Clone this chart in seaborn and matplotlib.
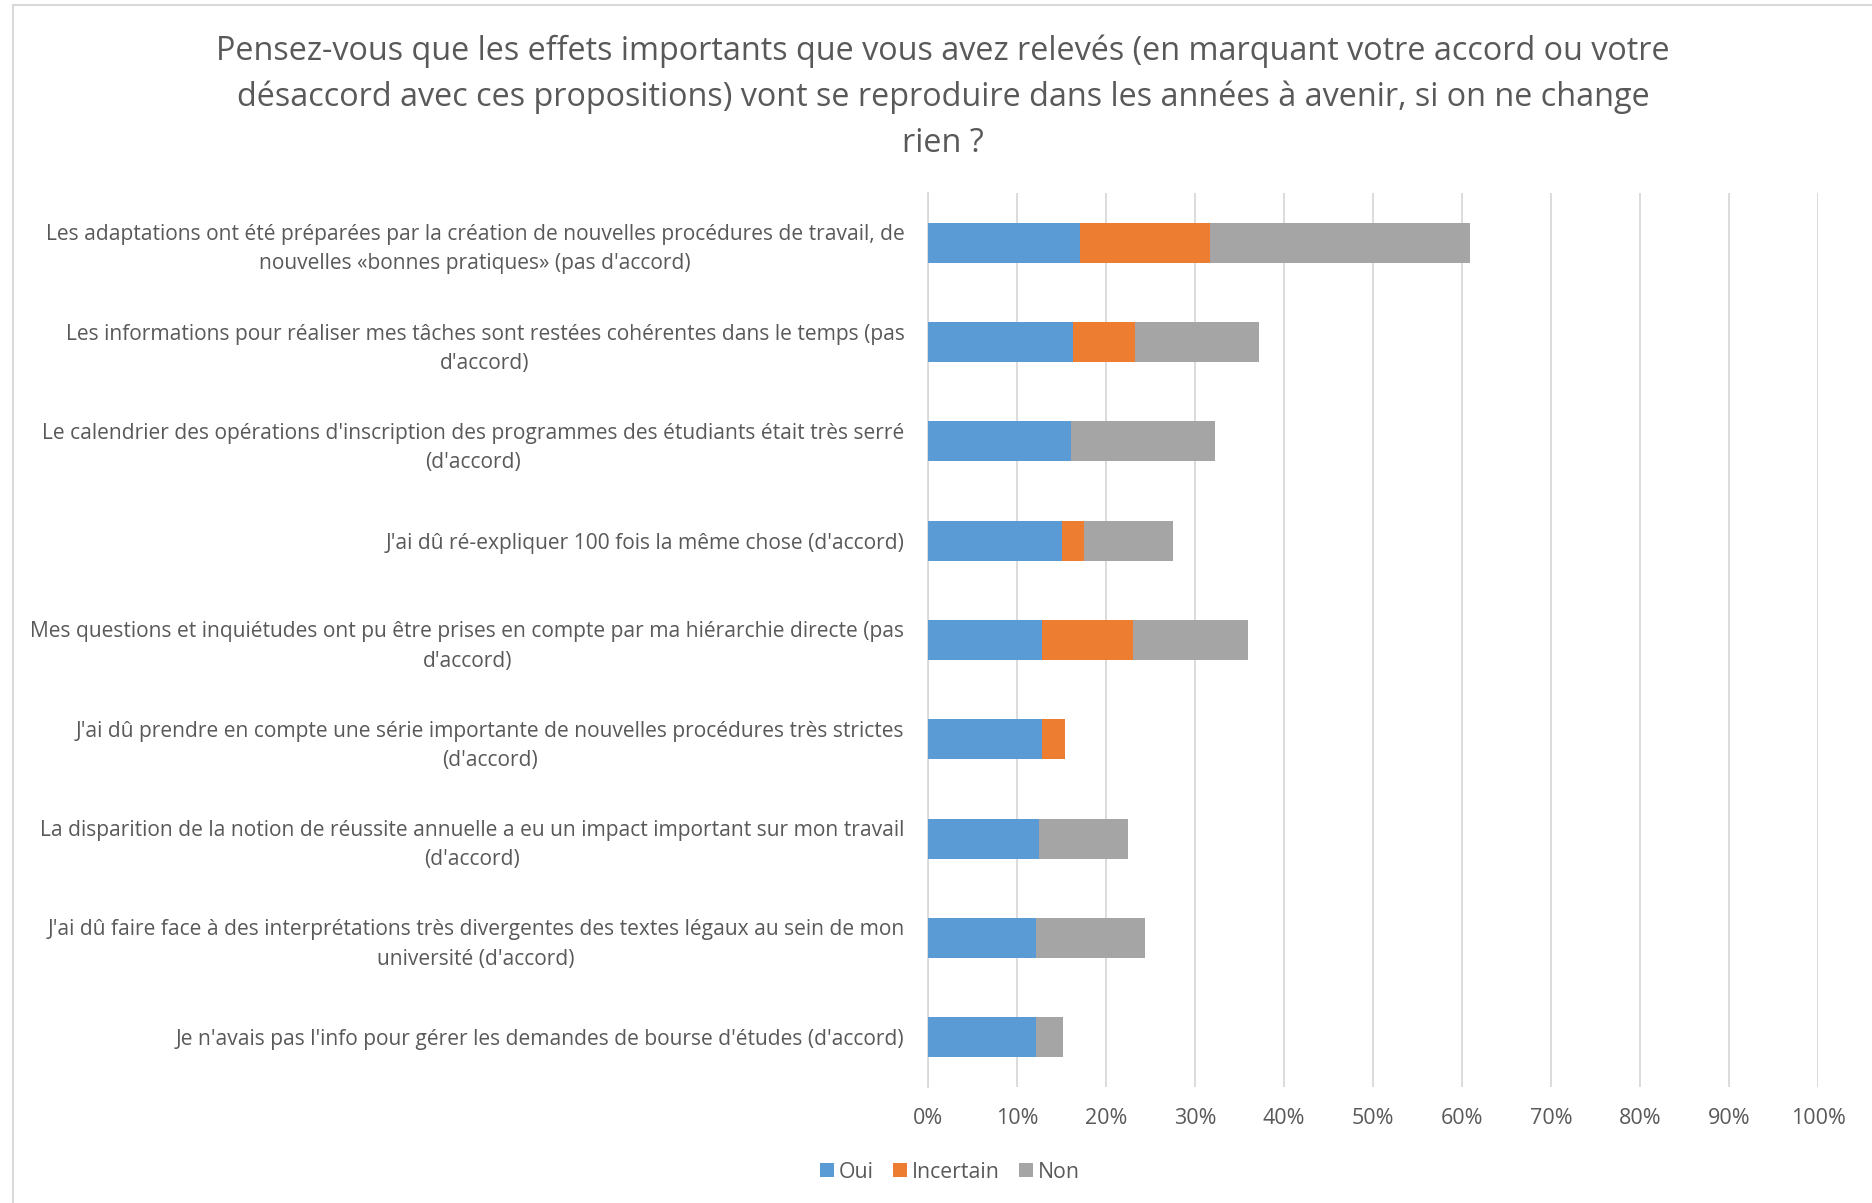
import numpy as np
import pandas as pd
import matplotlib
matplotlib.use("Agg")
import matplotlib.pyplot as plt
import seaborn as sns
from matplotlib.patches import Rectangle, Patch
from matplotlib.ticker import PercentFormatter

# ---------------------------------------------------------------------------
# Data (percent of respondents)
# ---------------------------------------------------------------------------
propositions = [
    "Les adaptations ont été préparées par la création de nouvelles procédures de travail, de\nnouvelles «bonnes pratiques» (pas d'accord)",
    "Les informations pour réaliser mes tâches sont restées cohérentes dans le temps (pas\nd'accord)",
    "Le calendrier des opérations d'inscription des programmes des étudiants était très serré\n(d'accord)",
    "J'ai dû ré-expliquer 100 fois la même chose (d'accord)",
    "Mes questions et inquiétudes ont pu être prises en compte par ma hiérarchie directe (pas\nd'accord)",
    "J'ai dû prendre en compte une série importante de nouvelles procédures très strictes\n(d'accord)",
    "La disparition de la notion de réussite annuelle a eu un impact important sur mon travail\n(d'accord)",
    "J'ai dû faire face à des interprétations très divergentes des textes légaux au sein de mon\nuniversité (d'accord)",
    "Je n'avais pas l'info pour gérer les demandes de bourse d'études (d'accord)",
]
oui = [17.1, 16.3, 16.1, 15.0, 12.8, 12.8, 12.5, 12.1, 12.1]
incertain = [14.6, 7.0, 0.0, 2.5, 10.2, 2.6, 0.0, 0.0, 0.0]
non = [29.2, 13.9, 16.1, 10.0, 12.9, 0.0, 10.0, 12.3, 3.1]

series = ["Oui", "Incertain", "Non"]
colors = {"Oui": "#5B9BD5", "Incertain": "#ED7D31", "Non": "#A5A5A5"}

title = ("Pensez-vous que les effets importants que vous avez relevés (en marquant votre accord ou votre\n"
         "désaccord avec ces propositions) vont se reproduire dans les années à avenir, si on ne change\n"
         "rien ?")

df = pd.DataFrame({"proposition": propositions, "Oui": oui,
                   "Incertain": incertain, "Non": non})
# cumulative ends for stacking
df["end_Oui"] = df["Oui"]
df["end_Incertain"] = df["Oui"] + df["Incertain"]
df["end_Non"] = df["end_Incertain"] + df["Non"]

# ---------------------------------------------------------------------------
# Plot
# ---------------------------------------------------------------------------
sns.set_theme(style="white")
plt.rcParams["font.family"] = ["Open Sans", "DejaVu Sans"]

fig = plt.figure(figsize=(18.72, 12.03), dpi=100)
ax = fig.add_axes([928 / 1872, 1 - 1087 / 1203, 890 / 1872, 894 / 1203])

# draw the longest first so the shorter segments sit on top
for s in reversed(series):
    sns.barplot(data=df, y="proposition", x=f"end_{s}", color=colors[s],
                width=0.4, saturation=1, linewidth=0, ax=ax, zorder=3)

ax.set_xlim(0, 100)
ax.xaxis.set_major_locator(plt.MultipleLocator(10))
ax.xaxis.set_major_formatter(PercentFormatter(decimals=0))
ax.grid(axis="x", color="#D9D9D9", linewidth=1.3, zorder=0)
ax.grid(axis="y", visible=False)
for side in ["top", "right", "bottom"]:
    ax.spines[side].set_visible(False)
ax.spines["left"].set_color("#D9D9D9")
ax.spines["left"].set_linewidth(1.3)
ax.set_xlabel("")
ax.set_ylabel("")
ax.tick_params(axis="x", length=0, pad=15, labelsize=15.5, labelcolor="#595959")
ax.tick_params(axis="y", length=0, pad=17, labelsize=15.1, labelcolor="#595959")
for lab in ax.get_yticklabels():
    lab.set_multialignment("center")
    lab.set_linespacing(1.5)

fig.text(943 / 1872, 1 - 34 / 1203, title, ha="center", va="top",
         fontsize=23.3, color="#595959", linespacing=1.51)

handles = [Patch(facecolor=colors[s], edgecolor="none", label=s) for s in series]
fig.legend(handles=handles, loc="center", bbox_to_anchor=(950 / 1872, 1 - 1172 / 1203),
           ncol=3, frameon=False, fontsize=15.3, labelcolor="#595959",
           handlelength=0.65, handleheight=0.65, handletextpad=0.25, columnspacing=0.9)

# chart frame (only left and top edges are visible in the crop)
fig.patches.append(Rectangle((13 / 1872, -0.05), 1.2, 1.05 - 4.5 / 1203,
                             transform=fig.transFigure, fill=False,
                             edgecolor="#D9D9D9", linewidth=1.5))

fig.savefig("out.png", dpi=100, facecolor="white")
